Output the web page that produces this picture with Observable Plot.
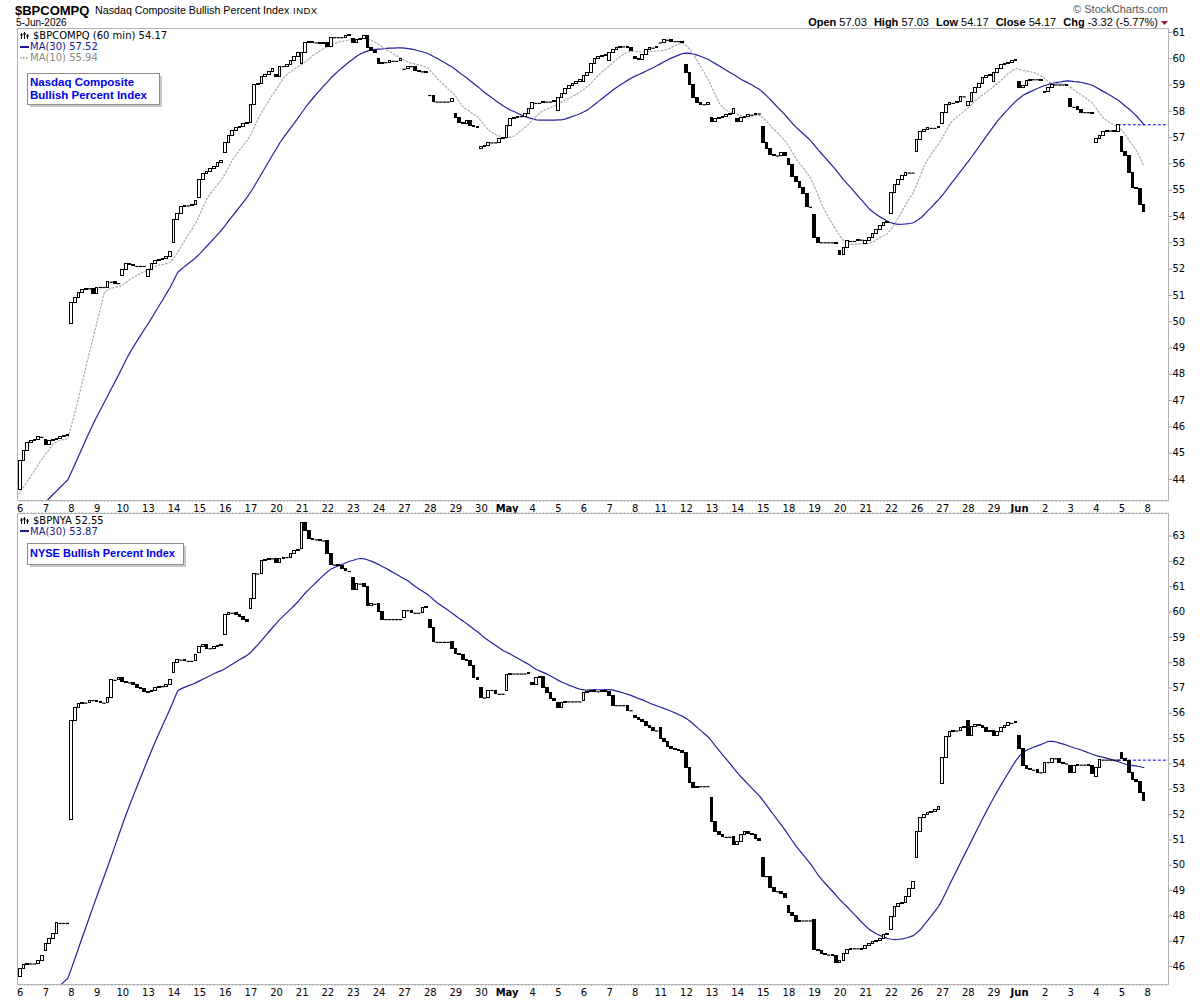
<!DOCTYPE html>
<html><head><meta charset="utf-8">
<script src="https://cdn.jsdelivr.net/npm/d3@7"></script>
<script src="https://cdn.jsdelivr.net/npm/@observablehq/plot@0.6"></script>
<style>
body{margin:0;background:#fff;width:1200px;height:1000px;position:relative;overflow:hidden;}
#top,#bot{position:absolute;left:0;}
#top{top:20px;} #bot{top:505px;}
#overlay{position:absolute;left:0;top:0;pointer-events:none;font-family:"Liberation Sans",Arial,sans-serif;}
svg rect{shape-rendering:crispEdges;}
</style></head><body>
<div id="top"></div>
<div id="bot"></div>
<svg id="overlay" width="1200" height="1000" xmlns="http://www.w3.org/2000/svg">
  <text x="15" y="15" font-size="13" font-weight="bold">$BPCOMPQ</text>
  <text x="95" y="14" font-size="10.7">Nasdaq Composite Bullish Percent Index</text>
  <text x="293" y="14" font-size="9.5" letter-spacing="0.5">INDX</text>
  <text x="16" y="26" font-size="10">5-Jun-2026</text>
  <text x="1168" y="13" text-anchor="end" font-size="11" fill="#555">© StockCharts.com</text>
  <text x="1158" y="26" text-anchor="end" font-size="11"><tspan font-weight="bold">Open</tspan> 57.03  <tspan dx="4" font-weight="bold">High</tspan> 57.03  <tspan dx="4" font-weight="bold">Low</tspan> 54.17  <tspan dx="4" font-weight="bold">Close</tspan> 54.17  <tspan dx="4" font-weight="bold">Chg</tspan> -3.32 (-5.77%)</text>
  <polygon points="1161,21 1168,21 1164.5,25" fill="#8b1538"/>

  <g font-family="DejaVu Sans" font-size="10">
    <g stroke="#000" fill="none" stroke-width="1"><path d="M21.5,33v6M24.5,32v7M27.5,34v5M20,35h3M23,34h3M26,36h3"/></g>
    <text x="33" y="39">$BPCOMPQ (60 min) 54.17</text>
    <line x1="20" x2="29" y1="47" y2="47" stroke="#1a1a8c" stroke-width="2"/>
    <text x="30" y="50" fill="#1a1a8c">MA(30) 57.52</text>
    <line x1="20" x2="29" y1="58" y2="58" stroke="#999" stroke-width="1.5" stroke-dasharray="1.5,1.5"/>
    <text x="30" y="61" fill="#888">MA(10) 55.94</text>

    <g stroke="#000" fill="none" stroke-width="1"><path d="M21.5,518v6M24.5,517v7M27.5,519v5M20,520h3M23,519h3M26,521h3"/></g>
    <text x="33" y="524">$BPNYA 52.55</text>
    <line x1="20" x2="29" y1="531" y2="531" stroke="#1a1a8c" stroke-width="2"/>
    <text x="30" y="535" fill="#1a1a8c">MA(30) 53.87</text>
  </g>

  <rect x="30" y="76" width="132" height="31" fill="#c8c8c8"/>
  <rect x="27.5" y="73.5" width="132" height="31" fill="#fff" stroke="#8c8c8c"/>
  <text x="30" y="86" font-size="11.5" font-weight="bold" fill="#0000f0">Nasdaq Composite</text>
  <text x="30" y="99" font-size="11.5" font-weight="bold" fill="#0000f0">Bullish Percent Index</text>

  <rect x="30" y="546" width="156" height="21" fill="#c8c8c8"/>
  <rect x="27.5" y="543.5" width="156" height="21" fill="#fff" stroke="#8c8c8c"/>
  <text x="30" y="557" font-size="11" font-weight="bold" fill="#0000f0">NYSE Bullish Percent Index</text>
</svg>
<script>
// ---------- Trading days (tick labels) ----------
const dayLabels = ["6","7","8","9","10","13","14","15","16","17","20","21","22","23","24","27","28","29","30",
  "May","4","5","6","7","8","11","12","13","14","15","18","19","20","21","22","26","27","28","29",
  "Jun","2","3","4","5"];
const futureLabel = "8";        // 8-Jun, right after the last bar
const barsPerDay = 7;           // 60-minute bars

// ---------- $BPCOMPQ : opening value of each day, then the 7 hourly closes ----------
const nasdaqDayOpen = [43.6,45.5,49.9,51.05,51.75,51.7,53.0,54.7,56.4,57.55,59.4,59.8,60.6,60.75,60.0,59.6,58.6,57.9,56.55,
  57.0,58.1,58.0,59.1,59.9,60.05,60.6,59.75,57.75,57.7,57.4,56.2,54.05,52.7,52.95,54.1,56.45,57.5,58.2,59.1,
  59.1,58.7,58.45,56.8,57.03];
const nasdaqCloses = [
  [44.7,45.1,45.4,45.45,45.5,45.6,45.6],
  [45.3,45.45,45.5,45.55,45.6,45.65,45.7],
  [50.7,50.9,51.1,51.2,51.25,51.25,51.05],
  [51.3,51.3,51.3,51.5,51.5,51.45,51.45],
  [51.95,52.2,52.15,52.1,52.1,52.1,52.1],
  [51.95,52.2,52.3,52.35,52.4,52.45,52.65],
  [53.85,54.1,54.35,54.4,54.4,54.45,54.6],
  [55.4,55.6,55.7,55.8,55.9,56.05,56.1],
  [56.8,57.05,57.25,57.35,57.4,57.5,57.55],
  [58.25,59.0,59.05,59.3,59.4,59.5,59.6],
  [59.3,59.7,59.7,59.75,59.9,60.05,60.2],
  [60.2,60.6,60.65,60.6,60.6,60.55,60.6],
  [60.45,60.8,60.8,60.8,60.8,60.85,60.9],
  [60.6,60.7,60.75,60.85,60.4,60.3,60.2],
  [59.8,59.85,59.85,59.9,59.9,59.9,60.0],
  [59.6,59.7,59.7,59.55,59.5,59.5,59.45],
  [58.6,58.35,58.35,58.35,58.35,58.35,58.45],
  [57.75,57.55,57.5,57.65,57.45,57.4,57.35],
  [56.65,56.7,56.8,56.8,56.8,56.95,57.0],
  [57.45,57.7,57.75,57.8,57.8,57.9,58.1],
  [58.3,58.3,58.3,58.35,58.35,58.35,58.4],
  [58.5,58.65,58.85,58.95,59.05,59.1,59.2],
  [59.35,59.45,59.8,60.0,60.05,60.1,60.15],
  [60.2,60.35,60.4,60.45,60.45,60.4,60.3],
  [60.0,59.95,60.15,60.35,60.4,60.4,60.45],
  [60.6,60.7,60.7,60.65,60.65,60.65,60.6],
  [59.45,59.0,58.5,58.3,58.25,58.25,58.3],
  [57.6,57.7,57.75,57.8,57.85,57.9,58.1],
  [57.6,57.75,57.8,57.85,57.85,57.9,57.9],
  [56.8,56.55,56.35,56.3,56.3,56.4,56.3],
  [55.95,55.5,55.3,55.1,54.85,54.35,54.35],
  [53.2,53.0,53.0,53.0,53.0,53.0,52.95],
  [52.55,52.8,53.05,53.05,53.05,53.1,53.1],
  [53.05,53.2,53.35,53.5,53.65,53.75,53.8],
  [54.9,55.2,55.4,55.55,55.65,55.65,55.65],
  [56.9,57.2,57.3,57.35,57.35,57.35,57.4],
  [57.95,58.25,58.3,58.3,58.35,58.55,58.55],
  [58.35,58.7,58.9,59.05,59.25,59.35,59.4],
  [59.45,59.6,59.75,59.8,59.85,59.9,59.95],
  [58.9,58.95,59.15,59.2,59.2,59.2,59.15],
  [58.75,58.9,59.0,59.0,59.0,59.0,58.95],
  [58.15,58.15,58.05,57.95,57.95,57.95,57.9],
  [56.95,57.05,57.2,57.25,57.25,57.2,57.49],
  [56.45,56.3,55.65,55.1,55.05,54.45,54.17]
];
// closes before the first visible bar (only feed the moving averages; read from where the MAs enter)
const nasdaqPrior = [41.2,41.3,41.4,41.4,41.5,41.6,41.6,41.7,41.8,41.8,41.9,42.0,42.1,
  43.2,43.3,43.3,43.4,43.4,43.5,43.5,43.5,43.6];
const nasdaqPrevClose = 57.49;

// ---------- $BPNYA ----------
const nyseDayOpen = [45.6,46.6,51.8,56.5,57.4,56.8,57.6,58.4,59.1,60.1,62.1,62.5,62.8,61.35,60.3,59.75,59.7,58.55,57.0,
  56.9,57.2,56.4,56.5,56.85,55.9,55.4,54.45,52.65,50.8,50.3,48.4,47.85,46.15,46.7,47.45,50.3,53.2,55.7,55.3,
  55.1,53.65,53.9,53.5,54.45];
const nyseCloses = [
  [45.9,46.05,46.1,46.1,46.1,46.2,46.4],
  [46.9,47.1,47.3,47.7,47.7,47.7,47.7],
  [55.7,56.2,56.35,56.4,56.4,56.5,56.5],
  [56.45,56.4,56.4,56.6,57.3,57.3,57.4],
  [57.25,57.2,57.2,57.1,57.0,56.95,56.85],
  [56.85,56.9,57.0,57.05,57.05,57.1,57.3],
  [58.0,58.1,58.1,58.05,58.05,58.05,58.3],
  [58.6,58.7,58.55,58.55,58.6,58.65,58.7],
  [59.9,59.95,59.95,59.9,59.8,59.7,59.6],
  [60.5,61.5,61.5,62.0,62.05,62.1,62.1],
  [61.95,62.1,62.15,62.15,62.3,62.4,62.45],
  [63.5,63.2,62.9,62.85,62.85,62.8,62.8],
  [62.3,61.85,61.85,61.8,61.7,61.6,61.6],
  [60.85,61.1,61.1,61.0,60.25,60.3,60.3],
  [60.0,59.7,59.7,59.7,59.7,59.7,59.7],
  [60.05,60.05,59.95,59.95,59.95,60.15,60.2],
  [59.35,58.8,58.8,58.8,58.8,58.8,58.55],
  [58.35,58.3,58.1,58.05,57.85,57.4,57.3],
  [56.6,56.6,56.9,56.9,56.75,56.75,56.75],
  [57.5,57.55,57.55,57.55,57.55,57.55,57.6],
  [57.1,57.4,57.45,57.0,56.8,56.55,56.5],
  [56.2,56.4,56.45,56.45,56.45,56.45,56.45],
  [56.8,56.85,56.9,56.85,56.85,56.9,56.85],
  [56.7,56.3,56.3,56.3,56.3,56.1,56.1],
  [55.8,55.75,55.65,55.5,55.4,55.3,55.3],
  [55.0,54.85,54.65,54.6,54.55,54.5,54.45],
  [53.85,53.25,53.05,53.1,53.1,53.1,53.1],
  [51.7,51.3,51.2,51.1,51.1,51.1,50.8],
  [50.9,51.2,51.3,51.25,51.2,51.05,50.95],
  [49.55,49.55,49.1,48.95,48.95,48.85,48.7],
  [48.1,48.0,47.75,47.8,47.8,47.8,47.8],
  [46.65,46.6,46.5,46.45,46.45,46.4,46.15],
  [46.2,46.5,46.65,46.7,46.7,46.7,46.65],
  [46.8,46.9,46.95,47.0,47.1,47.25,47.3],
  [47.95,48.35,48.45,48.5,48.75,49.05,49.35],
  [51.3,51.85,52.0,52.05,52.1,52.2,52.3],
  [54.25,55.05,55.25,55.3,55.3,55.4,55.45],
  [55.1,55.45,55.55,55.5,55.4,55.25,55.3],
  [55.1,55.25,55.4,55.5,55.6,55.6,55.65],
  [54.6,53.9,53.8,53.75,53.75,53.65,53.65],
  [54.05,54.05,54.2,54.2,54.05,54.0,54.0],
  [53.65,53.9,53.95,53.95,53.95,53.9,53.6],
  [53.85,54.15,54.15,54.15,54.15,54.15,54.15],
  [54.2,54.1,53.65,53.35,53.3,52.85,52.55]
];
const nysePrior = [43.0,43.1,43.1,43.2,43.4,43.5,43.6,43.8,43.9,43.9,44.0,44.1,44.2,44.2,
  44.4,44.5,44.6,44.7,44.8,44.9,45.0,45.1,45.1];
const nysePrevClose = 54.15;

// ---------- helpers ----------
function buildBars(dayOpen, dayCloses) {
  const bars = [];
  dayCloses.forEach((cs, d) => {
    let o = dayOpen[d];
    cs.forEach((c, k) => { bars.push({i: d * barsPerDay + k, open: o, close: c}); o = c; });
  });
  return bars;
}
function movingAverage(prior, closes, k) {
  const all = prior.concat(closes);
  return all.map((_, j) => ({i: j - prior.length, v: d3.mean(all.slice(Math.max(0, j - k + 1), j + 1))}));
}
const nBars = dayLabels.length * barsPerDay;
const xDomain = [-0.765, 313.7];
const tickLabels = dayLabels.map((l, d) => ({i: d * barsPerDay, label: l, bold: l === "May" || l === "Jun"}))
  .concat([{i: nBars, label: futureLabel, bold: false}]);
const minorTicks = d3.range(0, 314);

function panel({dayOpen, dayCloses, prior, mas, yDomain, yTicks, prevClose, topTicks, height, marginTop, marginBottom}) {
  const bars = buildBars(dayOpen, dayCloses);
  const closes = bars.map(b => b.close);
  const up = bars.filter(b => b.close > b.open);
  const down = bars.filter(b => b.close < b.open);
  const flat = bars.filter(b => b.close === b.open);
  const hw = 0.36;
  const marks = [
    Plot.frame({stroke: "#b4b4b4"}),
    Plot.axisY({anchor: "right", ticks: yTicks, tickSize: 3, tickPadding: 1, stroke: "#9a9a9a", fill: "#000", fontSize: 10, tickFormat: d => d, label: null}),
    Plot.axisX({anchor: "bottom", ticks: minorTicks, tickSize: 2, tickFormat: () => "", stroke: "#b4b4b4", label: null}),
    Plot.text(tickLabels.filter(t => !t.bold), {x: "i", text: "label", frameAnchor: "bottom", dy: 8, lineAnchor: "middle", fontSize: 10, fill: "#000"}),
    Plot.text(tickLabels.filter(t => t.bold), {x: "i", text: "label", frameAnchor: "bottom", dy: 8, lineAnchor: "middle", fontSize: 10, fontWeight: "bold", fill: "#000"})
  ];
  if (topTicks) marks.push(Plot.axisX({anchor: "top", ticks: minorTicks, tickSize: 2, tickFormat: () => "", stroke: "#b4b4b4", label: null}));
  mas.forEach(m => marks.push(Plot.lineY(movingAverage(prior, closes, m.k), {x: "i", y: "v", stroke: m.stroke, strokeWidth: m.width, strokeDasharray: m.dash, clip: true})));
  marks.push(
    Plot.ruleY([prevClose], {x1: nBars - barsPerDay - 1, x2: xDomain[1], stroke: "#0000ff", strokeWidth: 1, strokeDasharray: "3,2"}),
    Plot.ruleY(flat, {y: "close", x1: d => d.i - 0.45, x2: d => d.i + 0.45, stroke: "#000", strokeWidth: 1.2}),
    Plot.rect(up, {x1: d => d.i - hw, x2: d => d.i + hw, y1: "open", y2: "close", fill: "#fff", stroke: "#000", strokeWidth: 1}),
    Plot.rect(down, {x1: d => d.i - hw, x2: d => d.i + hw, y1: "open", y2: "close", fill: "#000", stroke: "#000", strokeWidth: 1})
  );
  return Plot.plot({
    width: 1200, height, marginLeft: 17, marginRight: 32, marginTop, marginBottom,
    style: {background: "transparent", overflow: "visible", fontFamily: "DejaVu Sans", fontSize: "10px"},
    x: {type: "linear", domain: xDomain, label: null},
    y: {domain: yDomain, label: null},
    marks
  });
}

document.getElementById("top").append(panel({
  dayOpen: nasdaqDayOpen, dayCloses: nasdaqCloses, prior: nasdaqPrior,
  mas: [{k: 30, stroke: "#23239b", width: 1.2}, {k: 10, stroke: "#a8a8a8", width: 1.2, dash: "1.5,2.2"}],
  yDomain: [43.2, 61.15], yTicks: d3.range(44, 62), prevClose: nasdaqPrevClose, topTicks: false,
  height: 494, marginTop: 8, marginBottom: 14
}));
document.getElementById("bot").append(panel({
  dayOpen: nyseDayOpen, dayCloses: nyseCloses, prior: nysePrior,
  mas: [{k: 30, stroke: "#23239b", width: 1.2}],
  yDomain: [45.29, 63.89], yTicks: d3.range(46, 64), prevClose: nysePrevClose, topTicks: true,
  height: 494, marginTop: 8, marginBottom: 15
}));
</script>
</body></html>
